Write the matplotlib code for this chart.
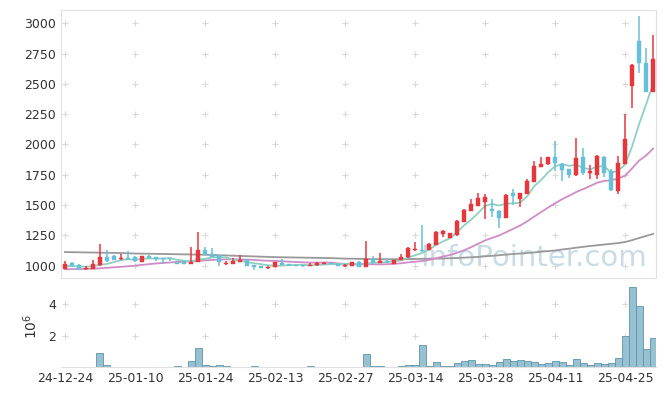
import numpy as np
import matplotlib.pyplot as plt

tick_labels = ['24-12-24', '25-01-10', '25-01-24', '25-02-13', '25-02-27',
               '25-03-14', '25-03-28', '25-04-11', '25-04-25']

opens = [975, 1022, 1006, 972, 973, 1003, 1072, 1080, 1053, 1066,
         1074, 1033, 1083, 1070, 1063, 1063, 1030, 1039, 1017, 1030,
         1130, 1096, 1088, 1012, 1017, 1033, 1050, 1006, 995, 984,
         987, 1025, 1014, 1004, 1006, 995, 1003, 1017, 1020, 1014,
         995, 998, 1030, 992, 1058, 1025, 1039, 1012, 1047, 1070,
         1125, 1132, 1130, 1173, 1261, 1231, 1251, 1363, 1454, 1492,
         1528, 1465, 1451, 1396, 1597, 1550, 1594, 1693, 1817, 1836,
         1897, 1839, 1798, 1745, 1897, 1768, 1745, 1900, 1778, 1612,
         1840, 2480, 2855, 2675, 2436]
closes = [1015, 1000, 970, 982, 1010, 1072, 1035, 1047, 1061, 1055,
          1035, 1080, 1066, 1052, 1055, 1055, 1014, 1017, 1033, 1130,
          1088, 1074, 1028, 1022, 1039, 1050, 1000, 987, 984, 992,
          1030, 1008, 1003, 998, 996, 1008, 1020, 1025, 1012, 998,
          1008, 1030, 992, 1053, 1025, 1039, 1028, 1047, 1074, 1142,
          1140, 1119, 1179, 1278, 1286, 1267, 1371, 1460, 1509, 1558,
          1567, 1449, 1396, 1583, 1575, 1597, 1699, 1822, 1839, 1894,
          1845, 1790, 1745, 1890, 1767, 1780, 1905, 1762, 1620, 1845,
          2045, 2655, 2675, 2436, 2705]
highs = [1035, 1028, 1010, 1000, 1050, 1180, 1130, 1085, 1094, 1120,
         1078, 1082, 1088, 1075, 1066, 1066, 1033, 1042, 1152, 1275,
         1154, 1143, 1090, 1040, 1061, 1088, 1052, 1008, 997, 995,
         1032, 1053, 1017, 1006, 1008, 1020, 1028, 1028, 1022, 1016,
         1012, 1033, 1035, 1204, 1078, 1108, 1055, 1050, 1094, 1157,
         1193, 1335, 1190, 1285, 1292, 1270, 1380, 1465, 1548, 1597,
         1590, 1553, 1460, 1590, 1630, 1600, 1718, 1864, 1894, 1897,
         2030, 1845, 1800, 2056, 1970, 1828, 1910, 1905, 1795, 1905,
         2250, 2660, 3063, 2795, 2903]
lows = [972, 995, 965, 968, 970, 1000, 1030, 1045, 1050, 1050,
        1030, 1030, 1062, 1040, 1014, 1040, 1010, 1014, 1014, 1028,
        1085, 1070, 1000, 1008, 1014, 1030, 998, 962, 978, 975,
        985, 1005, 1000, 995, 990, 993, 1000, 1014, 1010, 995,
        992, 995, 990, 990, 1020, 1020, 1025, 1010, 1045, 1066,
        1120, 1115, 1128, 1170, 1234, 1228, 1248, 1360, 1450, 1490,
        1385, 1404, 1308, 1393, 1500, 1487, 1590, 1690, 1810, 1833,
        1781, 1700, 1720, 1740, 1745, 1713, 1713, 1735, 1618, 1592,
        1835, 2304, 2587, 2430, 2430]

# volume in millions
volume = [0.02, 0.02, 0.02, 0.02, 0.02, 0.87, 0.12, 0.02, 0.02, 0.02,
          0.02, 0.02, 0.02, 0.02, 0.02, 0.02, 0.05, 0.02, 0.38, 1.2,
          0.12, 0.06, 0.12, 0.06, 0.02, 0.02, 0.02, 0.05, 0.02, 0.02,
          0.02, 0.02, 0.02, 0.02, 0.02, 0.05, 0.02, 0.02, 0.02, 0.02,
          0.02, 0.02, 0.02, 0.82, 0.05, 0.05, 0.02, 0.02, 0.05, 0.12,
          0.12, 1.38, 0.05, 0.33, 0.06, 0.06, 0.26, 0.38, 0.48, 0.2,
          0.2, 0.15, 0.35, 0.5, 0.4, 0.45, 0.4, 0.33, 0.2, 0.26,
          0.38, 0.33, 0.12, 0.5, 0.26, 0.15, 0.26, 0.2, 0.26, 0.57,
          1.95, 5.05, 3.9, 1.12, 1.85]

ma5 = [998, 996, 993, 992, 995, 1007, 1014, 1029, 1045, 1054,
       1047, 1056, 1059, 1058, 1058, 1062, 1048, 1039, 1035, 1050,
       1056, 1068, 1071, 1068, 1050, 1043, 1028, 1020, 1012, 1003,
       999, 1000, 1003, 1006, 1007, 1003, 1005, 1009, 1012, 1013,
       1013, 1015, 1008, 1016, 1022, 1028, 1027, 1038, 1043, 1066,
       1086, 1104, 1131, 1172, 1200, 1226, 1276, 1332, 1379, 1433,
       1493, 1509, 1496, 1511, 1514, 1520, 1570, 1655, 1706, 1770,
       1820, 1838, 1823, 1833, 1807, 1794, 1817, 1821, 1767, 1782,
       1835, 1985, 2168, 2331, 2503]
ma20 = [970, 971, 972, 973, 975, 978, 982, 986, 990, 995,
        1000, 1006, 1012, 1018, 1022, 1026, 1030, 1033, 1036, 1039,
        1043, 1047, 1050, 1052, 1053, 1052, 1050, 1047, 1043, 1040,
        1040, 1036, 1033, 1030, 1027, 1025, 1025, 1026, 1025, 1018,
        1014, 1012, 1010, 1012, 1011, 1010, 1012, 1015, 1019, 1027,
        1032, 1038, 1047, 1061, 1075, 1088, 1106, 1127, 1152, 1180,
        1208, 1229, 1249, 1276, 1303, 1331, 1365, 1404, 1442, 1479,
        1515, 1548, 1577, 1607, 1631, 1657, 1684, 1699, 1704, 1719,
        1742, 1803, 1867, 1909, 1966]
ma120 = [1112, 1111, 1110, 1109, 1108, 1107, 1106, 1105, 1104, 1102,
         1100, 1099, 1098, 1097, 1096, 1095, 1094, 1093, 1092, 1091,
         1090, 1088, 1086, 1084, 1082, 1080, 1078, 1076, 1074, 1072,
         1070, 1069, 1068, 1067, 1066, 1065, 1064, 1063, 1062, 1060,
         1058, 1057, 1056, 1055, 1054, 1053, 1053, 1053, 1053, 1054,
         1055, 1056, 1057, 1058, 1059, 1061, 1063, 1066, 1069, 1072,
         1077, 1081, 1086, 1091, 1096, 1100, 1104, 1109, 1115, 1120,
         1125, 1133, 1140, 1148, 1155, 1162, 1168, 1174, 1180, 1186,
         1195, 1210, 1228, 1245, 1262]

up_color = '#e8363d'
down_color = '#68bfd8'
grid_color = '#d9d9d9'
spine_color = '#e0e0e0'

x = np.arange(len(closes))
o = np.array(opens)
c = np.array(closes)
colors = np.where(c >= o, up_color, down_color)
bottoms = np.minimum(o, c)
heights = np.maximum(np.abs(c - o), 4)

fig = plt.figure(figsize=(6.65, 3.96), dpi=100)
ax = fig.add_axes([0.0917, 0.298, 0.895, 0.677])
axv = fig.add_axes([0.0917, 0.073, 0.895, 0.207], sharex=ax)

xticks = np.arange(0, len(closes), 10)
yticks = np.arange(1000, 3001, 250)
gx, gy = np.meshgrid(xticks, yticks)
ax.scatter(gx.ravel(), gy.ravel(), marker='+', s=22, color=grid_color, linewidths=0.8, zorder=0)

ax.plot(x, ma120, color='#999999', lw=1.3, zorder=1)
ax.plot(x, ma20, color='#cf8cc6', lw=1.3, zorder=1)
ax.plot(x, ma5, color='#8fd0c3', lw=1.3, zorder=1)

ax.vlines(x, lows, highs, colors=colors, lw=1.1, zorder=2)
ax.bar(x, heights, 0.62, bottom=bottoms, color=colors, edgecolor=colors, lw=0.3, zorder=3)

ax.text(0.985, 0.075, 'InfoPointer.com', transform=ax.transAxes, ha='right', va='center',
        fontsize=21, color='#c9dce6', zorder=0.5)

ax.set_xlim(-0.57, len(closes) - 0.57)
ax.set_ylim(898, 3110)
ax.set_yticks(yticks)
ax.tick_params(axis='both', length=0, labelsize=9, colors='#333333')
ax.tick_params(axis='x', labelbottom=False)
for s in ax.spines.values():
    s.set_color(spine_color)

# volume panel
vgx, vgy = np.meshgrid(xticks, [2, 4])
axv.scatter(vgx.ravel(), vgy.ravel(), marker='+', s=22, color=grid_color, linewidths=0.8, zorder=0)
axv.bar(x, volume, 1.0, color='#97c0d0', edgecolor='#5d95ad', lw=0.6, zorder=2)
axv.set_ylim(0, 5.2)
axv.set_yticks([2, 4])
axv.set_xticks(xticks)
axv.set_xticklabels(tick_labels)
axv.set_ylabel(r'$10^6$', fontsize=10, color='#333333', labelpad=6)
axv.tick_params(axis='both', length=0, labelsize=9, colors='#333333')
for name, s in axv.spines.items():
    s.set_visible(name == 'bottom')
    s.set_color(spine_color)

fig.savefig('out.png', dpi=100)
